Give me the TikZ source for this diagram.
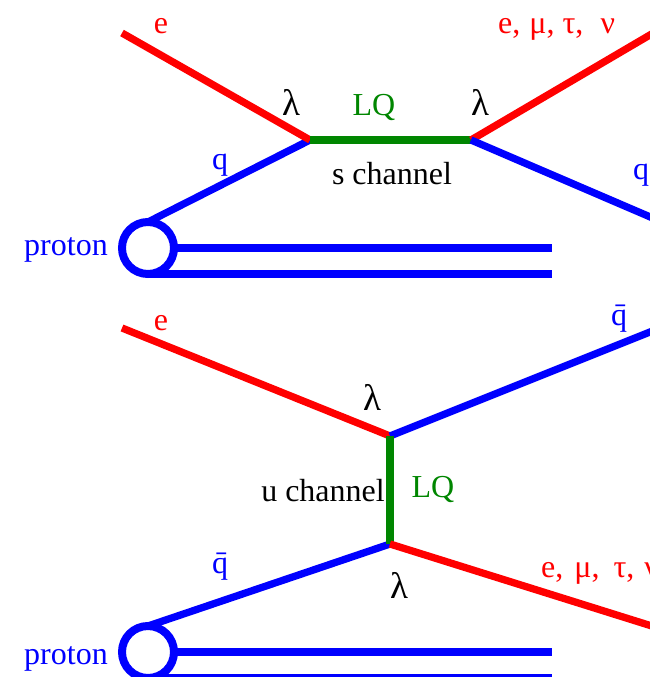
\documentclass[tikz,border=0pt]{standalone}
\usepackage{fontspec}
\setmainfont{Liberation Serif}
\definecolor{lqgreen}{RGB}{0,134,0}
\tikzset{
  lepton/.style={line width=7.3pt, red},
  quark/.style={line width=7.3pt, blue},
  leptoquark/.style={line width=7.3pt, lqgreen},
  protonblob/.style={circle, draw=blue, line width=8pt, minimum size=52pt, inner sep=0pt, outer sep=0pt},
  lbl/.style={anchor=base, inner sep=0pt, font=\fontsize{32}{36}\selectfont},
  lam/.style={lbl, font=\fontsize{37}{40}\selectfont},
}
\begin{document}
\begin{tikzpicture}[x=1pt, y=-1pt]
\useasboundingbox (0,0) rectangle (650,677);
\clip (0,0) rectangle (650,677);
% s channel
\coordinate (eA) at (122,33);
\coordinate (vA) at (310,140);
\coordinate (vB) at (471,140);
\coordinate (lepA) at (655,32);
\coordinate (qA) at (655,219);
\coordinate (endA) at (552,248);
\coordinate (endB) at (552,274);
\node[protonblob] (pA) at (148,248) {};
\draw[quark] (pA.north) -- (vA);
\draw[quark] (pA.east) -- (endA);
\draw[quark] (pA.south) -- (endB);
\draw[lepton] (eA) -- (vA);
\draw[leptoquark] (vA) -- (vB);
\draw[lepton] (vB) -- (lepA);
\draw[quark] (vB) -- (qA);
\node[lbl, red] (tEA) at (161,34) {e};
\node[lbl, red, anchor=base west] (tLepA) at (498,34) {e,\kern1pt{} μ, τ,\kern4pt\, ν};
\node[lam] (tLamA) at (291,115) {λ};
\node[lbl, lqgreen] (tLqA) at (374,115) {LQ};
\node[lam] (tLamB) at (480,115) {λ};
\node[lbl, blue] (tQA) at (220,169) {q};
\node[lbl] (tS) at (392,184) {s channel};
\node[lbl, blue] (tQB) at (641,179) {q};
\node[lbl, blue] (tPA) at (66,255) {proton};
% u channel
\coordinate (eB) at (122,328);
\coordinate (vC) at (390,436);
\coordinate (vD) at (390,544);
\coordinate (qC) at (655,330);
\coordinate (lepB) at (655,627);
\coordinate (endC) at (552,652);
\coordinate (endD) at (552,678);
\node[protonblob] (pB) at (148,652) {};
\draw[quark] (pB.north) -- (vD);
\draw[quark] (pB.east) -- (endC);
\draw[quark] (pB.south) -- (endD);
\draw[lepton] (eB) -- (vC);
\draw[quark] (vC) -- (qC);
\draw[leptoquark] (vC) -- (vD);
\draw[lepton] (vD) -- (lepB);
\node[lbl, red] (tEB) at (161,330) {e};
\node[lbl, blue] (tQC) at (619,325) {\=q};
\node[lam] (tLamC) at (372,410) {λ};
\node[lbl] (tU) at (323,501) {u channel};
\node[lbl, lqgreen] (tLqB) at (433,497) {LQ};
\node[lbl, blue] (tQD) at (220,573) {\=q};
\node[lam] (tLamD) at (399,598) {λ};
\node[lbl, red, anchor=base west] (tLepB) at (541,577) {e,\kern3pt{} μ,\kern6pt{} τ,\kern2pt{} ν};
\node[lbl, blue] (tPB) at (66,664) {proton};
\end{tikzpicture}
\end{document}
